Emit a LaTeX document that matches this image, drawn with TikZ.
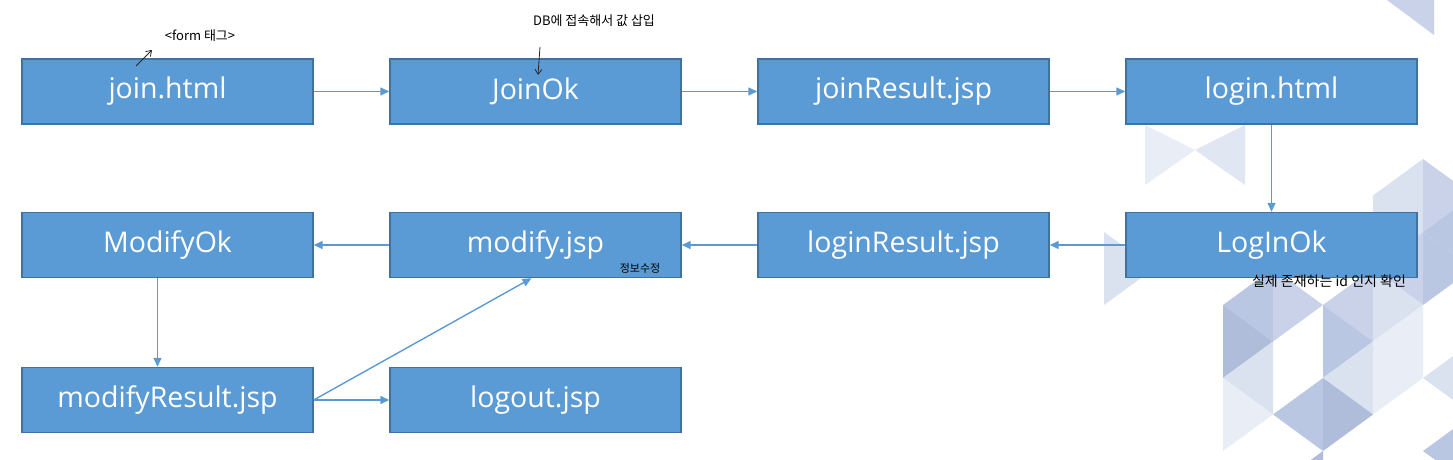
\documentclass[tikz,border=0pt]{standalone}
\usepackage{fontspec}
\setmainfont{Open Sans}
\newfontfamily\kofont{Noto Sans CJK KR}
\usetikzlibrary{arrows.meta}

\definecolor{boxfill}{HTML}{5B9BD5}
\definecolor{boxline}{HTML}{41719C}
\definecolor{triA}{HTML}{AFBDDB}
\definecolor{triB}{HTML}{BAC7E2}
\definecolor{triC}{HTML}{C9D2E8}
\definecolor{triD}{HTML}{DAE1EF}
\definecolor{triE}{HTML}{E8EDF6}

\tikzset{
  pagebox/.style={draw=boxline, line width=1.4pt, fill=boxfill, text=white,
    minimum width=291pt, minimum height=65pt, inner sep=0pt,
    font=\fontsize{28.5}{33}\selectfont},
  flow/.style={draw=boxfill, line width=1.4pt, -{Triangle[length=9pt,width=8pt]}},
  note/.style={inner sep=0pt, font=\kofont\fontsize{13}{15}\selectfont},
  penarrow/.style={draw=black!85, line width=0.8pt, -{Straight Barb[length=5pt,width=7pt]}}
}

\begin{document}
\begin{tikzpicture}[x=1pt, y=-1pt]
  \useasboundingbox (0,0) rectangle (1453,460);

  % Background pattern
  \begin{scope}
    \clip (0,0) rectangle (1453,460);
    \foreach \i/\j/\c in {0/-1/triB, 0/0/triA, 0/1/triD, 0/2/triE,
        1/-1/triC, 1/2/triB, 1/4/triA,
        2/-1/triC, 2/0/triB, 2/1/triD, 2/2/triA,
        3/-4/triD, 3/-3/triD, 3/-2/triC, 3/-1/triD, 3/0/triE, 3/1/triE,
        4/-4/triC, 4/-3/triB, 4/-2/triB, 4/1/triD, 4/3/triB} {
      \pgfmathtruncatemacro\p{mod(abs(\i+\j),2)}
      \pgfmathsetmacro\xa{1223+50*(\i+\p)}
      \pgfmathsetmacro\xb{1223+50*(\i+1-\p)}
      \fill[\c] (\xa,{305+36.5*\j}) -- (\xa,{305+36.5*(\j+2)})
        -- (\xb,{305+36.5*(\j+1)}) -- cycle;
    }
    \fill[triE] (1145,125) -- (1145,185) -- (1195,150) -- cycle;
    \fill[triD!80!white] (1245,125) -- (1245,185) -- (1195,150) -- cycle;
    \fill[triD] (1104,232) -- (1104,305) -- (1154,268.5) -- cycle;
    \fill[triC] (1387,0) -- (1434,35) -- (1434,0) -- cycle;
  \end{scope}

  % Pages
  \node[pagebox] (join) at (167.5,91.5) {join.html};
  \node[pagebox] (joinok) at (535.5,91.5) {JoinOk};
  \node[pagebox] (joinresult) at (903.5,91.5) {joinResult.jsp};
  \node[pagebox] (login) at (1271.5,91.5) {login.html};
  \node[pagebox] (modifyok) at (167.5,245) {ModifyOk};
  \node[pagebox] (modify) at (535.5,245) {modify.jsp};
  \node[pagebox] (loginresult) at (903.5,245) {loginResult.jsp};
  \node[pagebox] (loginok) at (1271.5,245) {LogInOk};
  \node[pagebox] (modifyresult) at (167.5,400) {modifyResult.jsp};
  \node[pagebox] (logout) at (535.5,400) {logout.jsp};

  % Flow
  \draw[flow] (join) -- (joinok);
  \draw[flow] (joinok) -- (joinresult);
  \draw[flow] (joinresult) -- (login);
  \draw[flow] (login) -- (loginok);
  \draw[flow] (loginok) -- (loginresult);
  \draw[flow] (loginresult) -- (modify);
  \draw[flow] (modify) -- (modifyok);
  \draw[flow] ([xshift=-10pt]modifyok.south) -- ([xshift=-10pt]modifyresult.north);
  \draw[flow] (modifyresult) -- (logout);
  \draw[flow] (modifyresult.east) -- ([xshift=-4pt]modify.south);

  % Notes
  \node[note] (formnote) at (200,36) {<form 태그>};
  \coordinate (formtail) at (136,66);
  \coordinate (formtip) at (152,50);
  \draw[penarrow] (formtail) -- (formtip);
  \node[note] (dbnote) at (594,21) {DB에 접속해서 값 삽입};
  \coordinate (dbtail) at (540,47);
  \coordinate (dbtip) at (538,75);
  \draw[penarrow] (dbtail) -- (dbtip);
  \node[note, font=\kofont\fontsize{11}{13}\selectfont] (editnote) at (640,268) {정보수정};
  \node[note, font=\kofont\fontsize{14}{16}\selectfont] (idnote) at (1329,281) {실제 존재하는 id 인지 확인};
\end{tikzpicture}
\end{document}
